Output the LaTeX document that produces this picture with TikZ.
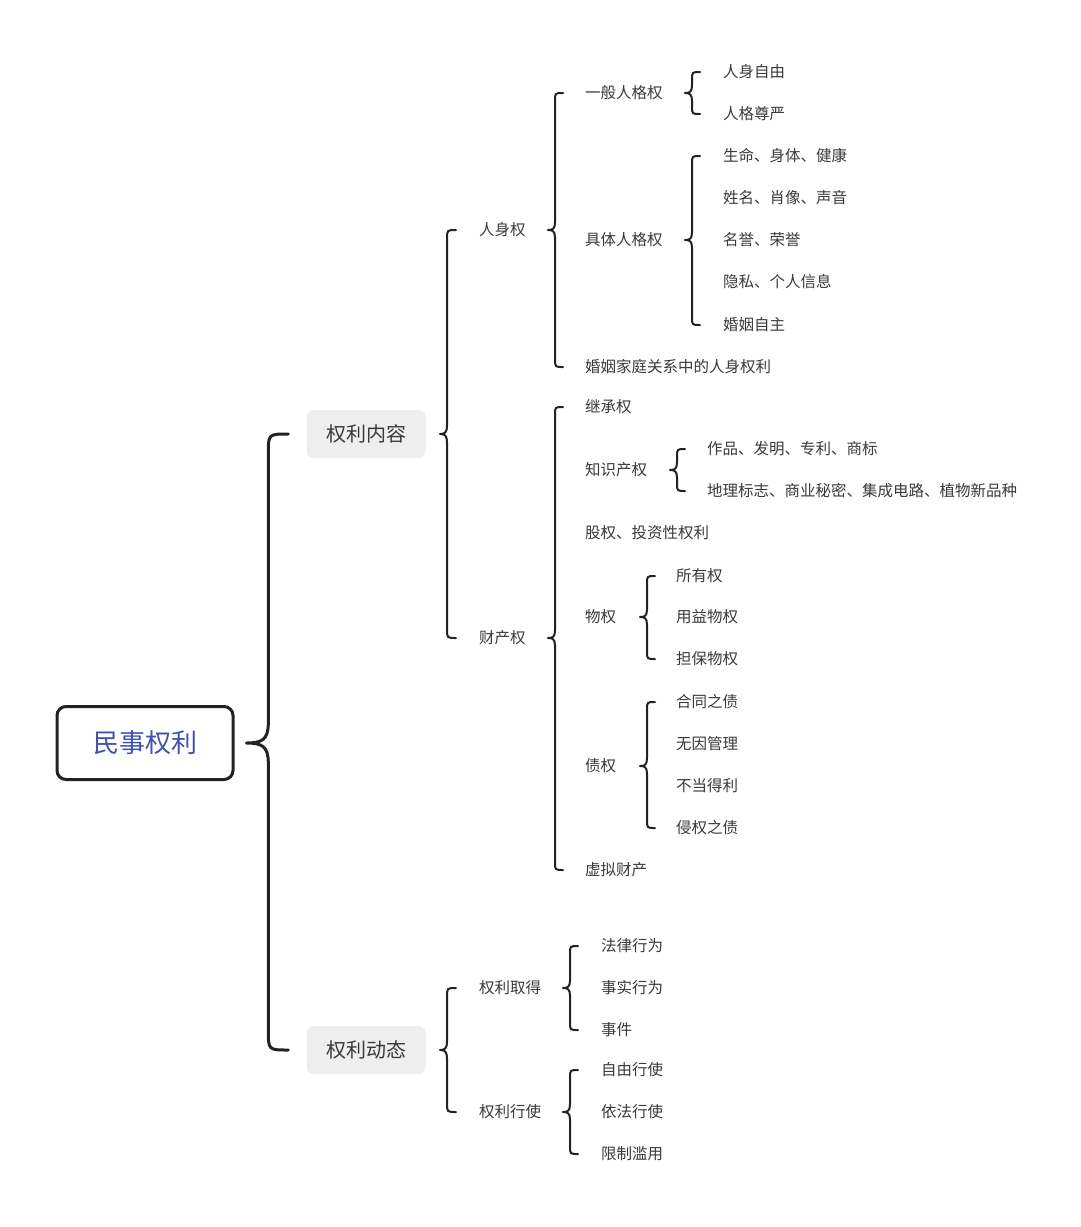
\documentclass[tikz,border=0pt]{standalone}
\usepackage{fontspec}
\newfontfamily\cjk{Noto Sans CJK SC}
\usetikzlibrary{calc}
\definecolor{txt}{HTML}{3A3A3A}
\definecolor{rootblue}{HTML}{3F51B5}
\definecolor{boxgray}{HTML}{EEEEEE}
\definecolor{linec}{HTML}{222222}
\tikzset{
  leaf/.style={anchor=west, inner sep=0pt, text=txt, font=\cjk\fontsize{15.5}{18}\selectfont},
  midbox/.style={rounded corners=7pt, fill=boxgray, minimum width=119pt, minimum height=48pt, inner sep=0pt, text=txt, font=\cjk\fontsize{20}{24}\selectfont},
  rootbox/.style={draw=linec, line width=3pt, rounded corners=9pt, minimum width=176pt, minimum height=73pt, inner sep=0pt, text=rootblue, font=\cjk\fontsize{26}{30}\selectfont},
  brcline/.style={draw=linec, line width=2pt, line cap=round, line join=round},
  rootbrc/.style={draw=linec, line width=3pt, line cap=round, line join=round}
}
% #1 style, #2 offset, #3 depth, #4 radius, #5 parent, #6 first child, #7 last child
\newcommand\mybrc[7]{%
  \draw[#1] let \p1=(#5.west), \p2=(#6.west), \p3=(#7.west) in
   ({\x2-#2pt+#4pt},\y2) .. controls ({\x2-#2pt},\y2) .. ({\x2-#2pt},{\y2-#4pt})
   -- ({\x2-#2pt},{\y1+#4pt})
   .. controls ({\x2-#2pt},{\y1+0.15*#4pt}) and ({\x2-#2pt-0.3*#3pt},\y1) .. ({\x2-#2pt-#3pt},\y1)
   .. controls ({\x2-#2pt-0.3*#3pt},\y1) and ({\x2-#2pt},{\y1-0.15*#4pt}) .. ({\x2-#2pt},{\y1-#4pt})
   -- ({\x2-#2pt},{\y3+#4pt})
   .. controls ({\x2-#2pt},\y3) .. ({\x2-#2pt+#4pt},\y3);%
}
\begin{document}
\begin{tikzpicture}[x=1pt,y=-1pt]
\fill[white] (0,0) rectangle (1080,1227);
\useasboundingbox (0,0) rectangle (1080,1227);

% root and level 1
\node[rootbox] (root) at (145,743) {民事权利};
\node[midbox] (nr) at (366,434) {权利内容};
\node[midbox] (dt) at (366,1050) {权利动态};

% level 2
\node[leaf] (rs) at (479,230) {人身权};
\node[leaf] (cc) at (479,638) {财产权};
\node[leaf] (qd) at (479,988) {权利取得};
\node[leaf] (xs) at (479,1112) {权利行使};

% 人身权 children
\node[leaf] (yb) at (585,93) {一般人格权};
\node[leaf] (jt) at (585,240) {具体人格权};
\node[leaf] (hy) at (585,367) {婚姻家庭关系中的人身权利};
\node[leaf] (yb1) at (723,72) {人身自由};
\node[leaf] (yb2) at (723,114) {人格尊严};
\node[leaf] (jt1) at (723,156) {生命、身体、健康};
\node[leaf] (jt2) at (723,198) {姓名、肖像、声音};
\node[leaf] (jt3) at (723,240) {名誉、荣誉};
\node[leaf] (jt4) at (723,282) {隐私、个人信息};
\node[leaf] (jt5) at (723,325) {婚姻自主};

% 财产权 children
\node[leaf] (jc) at (585,407) {继承权};
\node[leaf] (zs) at (585,470) {知识产权};
\node[leaf] (gq) at (585,533) {股权、投资性权利};
\node[leaf] (wq) at (585,617) {物权};
\node[leaf] (zq) at (585,766) {债权};
\node[leaf] (xn) at (585,870) {虚拟财产};
\node[leaf] (zs1) at (707,449) {作品、发明、专利、商标};
\node[leaf] (zs2) at (707,491) {地理标志、商业秘密、集成电路、植物新品种};
\node[leaf] (wq1) at (676,576) {所有权};
\node[leaf] (wq2) at (676,617) {用益物权};
\node[leaf] (wq3) at (676,659) {担保物权};
\node[leaf] (zq1) at (676,702) {合同之债};
\node[leaf] (zq2) at (676,744) {无因管理};
\node[leaf] (zq3) at (676,786) {不当得利};
\node[leaf] (zq4) at (676,828) {侵权之债};

% 权利动态 children
\node[leaf] (qd1) at (601,946) {法律行为};
\node[leaf] (qd2) at (601,988) {事实行为};
\node[leaf] (qd3) at (601,1030) {事件};
\node[leaf] (xs1) at (601,1070) {自由行使};
\node[leaf] (xs2) at (601,1112) {依法行使};
\node[leaf] (xs3) at (601,1154) {限制滥用};

% braces
\mybrc{rootbrc}{38}{22}{20}{root}{nr}{dt}
\mybrc{brcline}{32}{7}{9}{nr}{rs}{cc}
\mybrc{brcline}{32}{7}{9}{dt}{qd}{xs}
\mybrc{brcline}{30}{7}{8}{rs}{yb}{hy}
\mybrc{brcline}{30}{7}{8}{cc}{jc}{xn}
\mybrc{brcline}{31}{7}{8}{yb}{yb1}{yb2}
\mybrc{brcline}{31}{7}{8}{jt}{jt1}{jt5}
\mybrc{brcline}{30}{7}{8}{zs}{zs1}{zs2}
\mybrc{brcline}{29}{7}{8}{wq}{wq1}{wq3}
\mybrc{brcline}{29}{7}{8}{zq}{zq1}{zq4}
\mybrc{brcline}{31}{7}{8}{qd}{qd1}{qd3}
\mybrc{brcline}{31}{7}{8}{xs}{xs1}{xs3}
\end{tikzpicture}
\end{document}
